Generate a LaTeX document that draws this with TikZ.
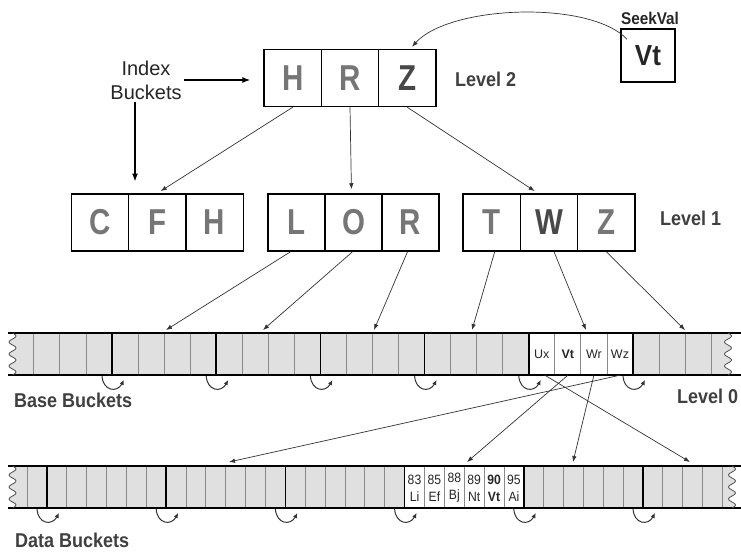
\documentclass[tikz,border=0pt]{standalone}
\usepackage{fontspec}
\setmainfont{Liberation Sans}
\newfontfamily\condfam[FakeStretch=0.82]{Liberation Sans}
\newfontfamily\labfam[FakeStretch=0.9]{Liberation Sans}
\usetikzlibrary{arrows.meta,calc}
\definecolor{lettergray}{HTML}{767676}
\definecolor{letterdark}{HTML}{484848}
\definecolor{labelgray}{HTML}{404040}
\definecolor{stripfill}{HTML}{E0E0E0}
\definecolor{cellline}{HTML}{8A8A8A}
\definecolor{arrowgray}{HTML}{333333}
\tikzset{
  idx/.style={draw=black, line width=1.5pt, minimum width=57.3pt, minimum height=57pt,
    inner sep=0pt, text=lettergray, font=\fontsize{36}{36}\selectfont\condfam\bfseries},
  lab/.style={text=labelgray, inner sep=0pt, font=\fontsize{20}{22}\selectfont\labfam\bfseries},
  arr/.style={draw=arrowgray, line width=0.7pt, -{Latex[length=6pt,width=4.5pt]}},
  bigarr/.style={draw=black, line width=1.3pt, -{Latex[length=8pt,width=6pt]}},
  curl/.style={draw=arrowgray, line width=1pt, -{Latex[length=5pt,width=4.5pt]}},
  thincell/.style={draw=cellline, line width=0.9pt},
  thickcell/.style={draw=black, line width=1.5pt},
  stripedge/.style={draw=black, line width=1.5pt},
  wave/.style={draw=black!70, line width=0.8pt},
  bcell/.style={inner sep=0pt, minimum width=26pt, minimum height=42pt, text=black!85,
    font=\fontsize{12.5}{14}\selectfont},
  dcell/.style={inner sep=0pt, minimum width=19.8pt, minimum height=42pt, text=black!85,
    align=center, font=\fontsize{13.5}{17}\selectfont\labfam}
}
\begin{document}
\begin{tikzpicture}[x=1pt, y=-1pt]
\useasboundingbox (0,0) rectangle (741,552);

% ---------- Level 2 ----------
\node[idx] (l2h) at (292.7,78) {H};
\node[idx] (l2r) at (350,78) {R};
\node[idx, text=letterdark] (l2z) at (407.3,78) {Z};
\node[lab, anchor=west] (lv2) at (455,79) {Level 2};

% ---------- SeekVal ----------
\node[text=black!85, inner sep=0pt, font=\fontsize{17}{18}\selectfont\labfam\bfseries] (sv) at (650,18) {SeekVal};
\node[draw=black, line width=1.5pt, minimum width=54pt, minimum height=53pt, inner sep=0pt,
  text=black!85, font=\fontsize{29}{29}\selectfont\labfam\bfseries] (seek) at (648,55.5) {Vt};
\draw[arr] ($(seek.north)+(-21,11)$) .. controls (590,0) and (450,5) .. ($(l2z.north)+(4.7,-2)$);

% ---------- Index Buckets ----------
\node[align=center, inner sep=2pt, text=black!85, font=\fontsize{20}{24}\selectfont] (ib) at (146,80) {Index\\Buckets};
\draw[bigarr, shorten >=13pt] (ib.east) -- (ib.east -| l2h.west);
\draw[bigarr] ([xshift=-11pt]ib.south) -- ++(0,80);

% ---------- Level 1 ----------
\node[idx] (l1c) at (100,222.5) {C};
\node[idx] (l1f) at (157.3,222.5) {F};
\node[idx] (l1h) at (214.6,222.5) {H};
\node[idx, minimum width=57pt] (l1l) at (296.5,222.5) {L};
\node[idx, minimum width=57pt] (l1o) at (353.5,222.5) {O};
\node[idx, minimum width=57pt] (l1r) at (410.5,222.5) {R};
\node[idx] (l1t) at (491.7,222.5) {T};
\node[idx, text=letterdark] (l1w) at (549,222.5) {W};
\node[idx] (l1z) at (606.3,222.5) {Z};
\node[lab, anchor=west] (lv1) at (660,218) {Level 1};

\draw[arr, shorten >=4pt] (l2h.south) -- (l1f.north);
\draw[arr, shorten >=4pt] (l2r.south) -- ($(l1o.north)+(-2,0)$);
\draw[arr, shorten >=4pt] (l2z.south) -- ($(l1w.north)+(-11,0)$);

% ---------- Base strip ----------
\fill[stripfill] plot[domain=0:42, samples=43, smooth] ({12.5+3.5*sin(\x*30)},{333+\x})
  -- plot[domain=42:0, samples=43, smooth] ({728+3.5*sin(\x*30)},{333+\x}) -- cycle;
\fill[white] (528.8,333) rectangle (633,375);
\foreach \g in {-1,...,5} \foreach \k in {1,2,3}
  \draw[thincell] ({112+104.2*\g+26.05*\k},333) -- ++(0,42);
\foreach \g in {0,...,5}
  \draw[thickcell] ({112+104.2*\g},333) -- ++(0,42);
\draw[stripedge] (8,333) -- (741,333);
\draw[stripedge] (8,375) -- (741,375);
\draw[wave] plot[domain=0:42, samples=43, smooth] ({12.5+3.5*sin(\x*30)},{333+\x});
\draw[wave] plot[domain=0:42, samples=43, smooth] ({728+3.5*sin(\x*30)},{333+\x});
\node[bcell] (ux) at (541.8,354) {Ux};
\node[bcell, font=\fontsize{12.5}{14}\selectfont\bfseries] (vt) at (567.9,354) {Vt};
\node[bcell] (wr) at (593.9,354) {Wr};
\node[bcell] (wz) at (620,354) {Wz};
\foreach \g in {0,...,5}
  \draw[curl] ({112+104.2*\g-10},376) .. controls ({112+104.2*\g-9},391) and ({112+104.2*\g+5},393) .. ({112+104.2*\g+12},380);
\node[lab, anchor=west] (bb) at (14,400) {Base Buckets};
\node[lab, anchor=west] (lv0) at (677,396) {Level 0};

\coordinate (b1) at (166,330);
\coordinate (b2) at (263,330);
\coordinate (b3) at (374,330);
\coordinate (b4) at (472,330);
\coordinate (b5) at (586,330);
\coordinate (b6) at (685,330);
\draw[arr] ([xshift=-6pt]l1l.south) -- (b1);
\draw[arr] ([xshift=-1pt]l1o.south) -- (b2);
\draw[arr] ([xshift=-3pt]l1r.south) -- (b3);
\draw[arr] ([xshift=3pt]l1t.south) -- (b4);
\draw[arr] ([xshift=5pt]l1w.south) -- (b5);
\draw[arr] (l1z.south) -- (b6);

% ---------- Data strip ----------
\fill[stripfill] plot[domain=0:42, samples=43, smooth] ({12.5+3.5*sin(\x*30)},{466+\x})
  -- plot[domain=42:0, samples=43, smooth] ({732+3.5*sin(\x*30)},{466+\x}) -- cycle;
\fill[white] (404.6,466) rectangle (523.8,508);
\foreach \g/\kmin/\kmax in {-1/5/5, 0/1/5, 1/1/5, 2/1/5, 3/1/5, 4/1/5, 5/1/4}
  \foreach \k in {\kmin,...,\kmax}
    \draw[thincell] ({47+119.2*\g+19.87*\k},466) -- ++(0,42);
\foreach \g in {0,...,5}
  \draw[thickcell] ({47+119.2*\g},466) -- ++(0,42);
\draw[stripedge] (8,466) -- (741,466);
\draw[stripedge] (8,508) -- (741,508);
\draw[wave] plot[domain=0:42, samples=43, smooth] ({12.5+3.5*sin(\x*30)},{466+\x});
\draw[wave] plot[domain=0:42, samples=43, smooth] ({732+3.5*sin(\x*30)},{466+\x});
\node[dcell] (d83) at (414.5,488) {83\\Li};
\node[dcell] (d85) at (434.4,488) {85\\Ef};
\node[dcell] (d88) at (454.3,488) {88\\Bj};
\node[dcell] (d89) at (474.1,488) {89\\Nt};
\node[dcell, font=\fontsize{13.5}{17}\selectfont\labfam\bfseries] (d90) at (494,488) {90\\Vt};
\node[dcell] (d95) at (513.9,488) {95\\Ai};
\foreach \g in {0,...,5}
  \draw[curl] ({47+119.2*\g-10},509) .. controls ({47+119.2*\g-9},524) and ({47+119.2*\g+5},526) .. ({47+119.2*\g+12},513);
\node[lab, anchor=west] (db) at (15,540) {Data Buckets};

\coordinate (t1) at (229,462);
\coordinate (t2) at (467,462);
\coordinate (t3) at (573,462);
\coordinate (t4) at (690,462);
\draw[arr] ([xshift=3pt]ux.south) -- (t4);
\draw[arr] (vt.south) -- (t2);
\draw[arr] (wr.south) -- (t3);
\draw[arr] (wz.south) -- (t1);
\end{tikzpicture}
\end{document}
